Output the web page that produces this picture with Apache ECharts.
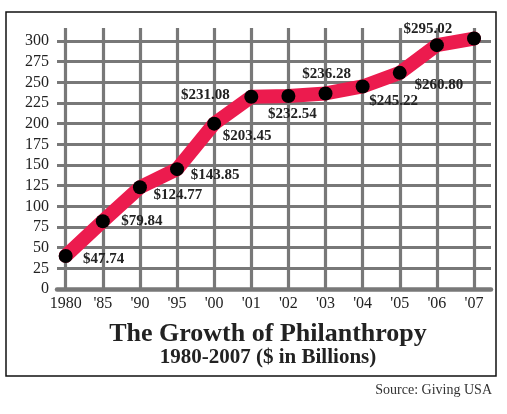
<!DOCTYPE html>
<html>
<head>
<meta charset="utf-8">
<script src="https://cdn.jsdelivr.net/npm/echarts@6/dist/echarts.min.js"></script>
<style>
  html, body { margin: 0; padding: 0; background: #fff; }
  #echart { width: 507px; height: 414px; }
</style>
</head>
<body>
<div id="echart"></div>
<script>
// years on the x axis
var years = ['1980', "'85", "'90", "'95", "'00", "'01", "'02", "'03", "'04", "'05", "'06", "'07"];
// where the dots sit on the chart (billions)
var values = [40, 82, 123, 145, 200, 232.5, 233.5, 236.5, 245, 261.5, 295, 303];
// printed labels next to the dots
var labels = ['$47.74', '$79.84', '$124.77', '$143.85', '$203.45', '$231.08', '$232.54', '$236.28', '$245.22', '$260.80', '$295.02', ''];
// y axis ticks
var yTicks = [0, 25, 50, 75, 100, 125, 150, 175, 200, 225, 250, 275, 300];

// label offsets from the dot centre (style only)
var labelOffsets = [[38, 3], [39, 0], [38, 8], [38, 6], [33, 12], [-46, -2], [4, 18], [1, -19], [31, 15], [39, 12], [-9, -16], [0, 0]];

var grey = '#787878';
var red = '#ec1b4e';
var serif = '"Liberation Serif", "DejaVu Serif", serif';

var myChart = echarts.init(document.getElementById('echart'));

var points = [];
for (var i = 0; i < values.length; i++) {
  points.push({
    value: values[i],
    label: { formatter: labels[i], offset: labelOffsets[i] }
  });
}

var option = {
  backgroundColor: '#fff',
  animation: false,
  grid: [
    // horizontal lines + y labels
    { left: 57, right: 16, top: 41, bottom: 125 },
    // vertical lines, x labels and the line
    { left: 65.7, right: 33, top: 28, bottom: 125 }
  ],
  xAxis: [
    {
      gridIndex: 0, type: 'value', min: 0, max: 1,
      axisLine: { show: true, lineStyle: { color: grey, width: 4.5 } },
      axisTick: { show: false },
      axisLabel: { show: false },
      splitLine: { show: false }
    },
    {
      gridIndex: 1,
      type: 'category',
      data: years,
      boundaryGap: false,
      axisLine: { show: false },
      axisTick: { show: false },
      axisLabel: { interval: 0, color: '#222', fontFamily: serif, fontSize: 16, margin: 7 },
      splitLine: { show: true, interval: 0, lineStyle: { color: grey, width: 3.2 } }
    }
  ],
  yAxis: [
    {
      gridIndex: 0,
      type: 'value',
      min: 0,
      max: yTicks[yTicks.length - 1],
      interval: yTicks[1] - yTicks[0],
      axisLine: { show: false },
      axisTick: { show: false },
      axisLabel: { color: '#222', fontFamily: serif, fontSize: 16, margin: 8 },
      splitLine: { show: true, lineStyle: { color: grey, width: 3.2 } }
    },
    {
      gridIndex: 1,
      type: 'value',
      min: 0,
      max: 300 * 261 / 248,
      show: false,
      splitLine: { show: false }
    }
  ],
  series: [
    {
      type: 'line',
      xAxisIndex: 1,
      yAxisIndex: 1,
      data: points,
      symbol: 'circle',
      symbolSize: 14,
      lineStyle: { color: red, width: 14, cap: 'round', join: 'round' },
      itemStyle: { color: '#000' },
      label: {
        show: true,
        position: 'inside',
        color: '#222',
        fontFamily: serif,
        fontWeight: 'bold',
        fontSize: 15
      },
      z: 5
    }
  ],
  graphic: [
    {
      type: 'rect',
      shape: { x: 6, y: 12, width: 490, height: 364 },
      style: { fill: 'none', stroke: '#111', lineWidth: 1.5 },
      silent: true
    },
    {
      type: 'text',
      x: 268, y: 334,
      style: {
        text: 'The Growth of Philanthropy',
        fill: '#222',
        font: 'bold 26px ' + serif,
        textAlign: 'center',
        textVerticalAlign: 'middle'
      }
    },
    {
      type: 'text',
      x: 268, y: 358,
      style: {
        text: '1980-2007 ($ in Billions)',
        fill: '#222',
        font: 'bold 21px ' + serif,
        textAlign: 'center',
        textVerticalAlign: 'middle'
      }
    },
    {
      type: 'text',
      x: 492, y: 390,
      style: {
        text: 'Source: Giving USA',
        fill: '#333',
        font: '14px ' + serif,
        textAlign: 'right',
        textVerticalAlign: 'middle'
      }
    }
  ]
};

myChart.setOption(option);
</script>
</body>
</html>
